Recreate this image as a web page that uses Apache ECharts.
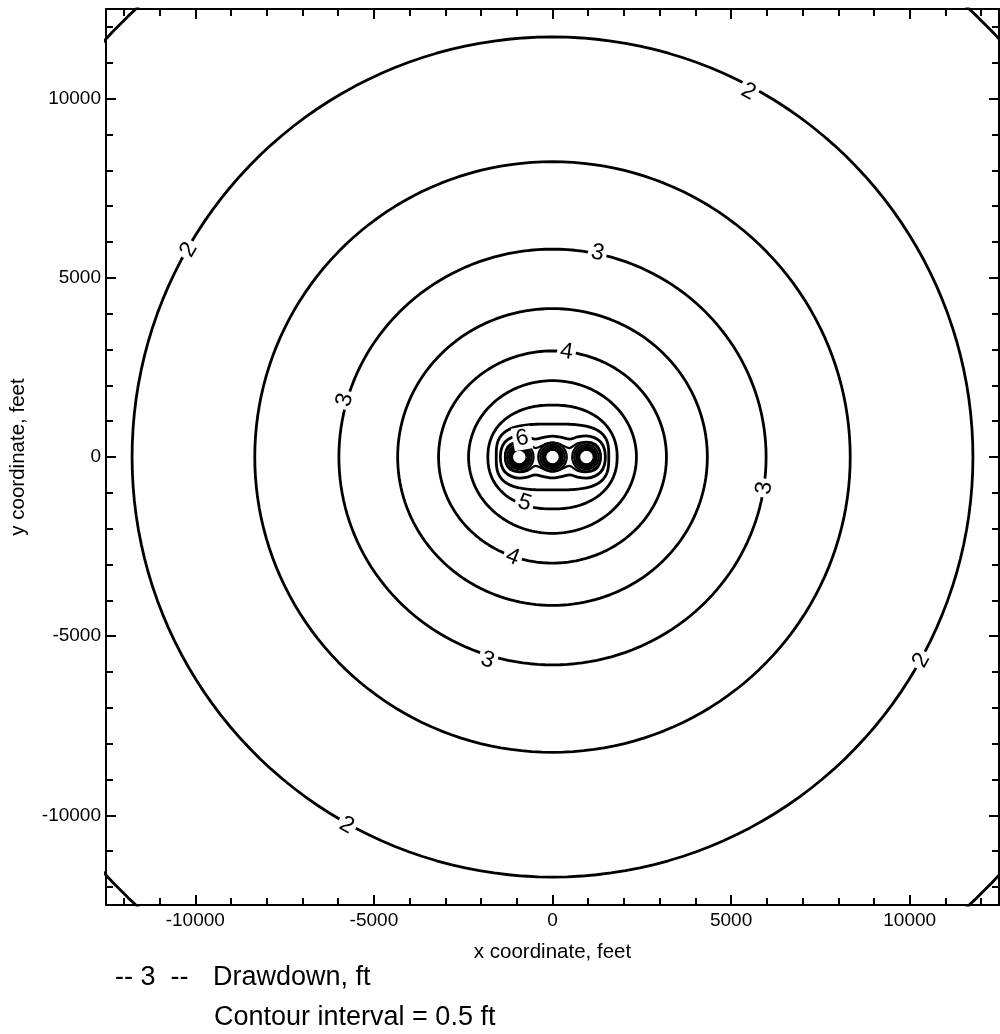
<!DOCTYPE html>
<html>
<head>
<meta charset="utf-8">
<script src="https://cdn.jsdelivr.net/npm/echarts@6/dist/echarts.min.js"></script>
<style>
html,body{margin:0;padding:0;background:#fff;}
#chart{width:1000px;height:1034px;}
</style>
</head>
<body>
<div id="chart"></div>
<script>
// ---- Data (feet) ----
// Outer, nearly elliptical drawdown contours
const contourLevels = [1.5, 2, 2.5, 3, 3.5, 4, 4.5, 5, 5.5];
const contourRadiusX = [17100, 11770, 8335, 5980, 4335, 3190, 2350, 1810, 1575];
const contourRadiusY = [17100, 11720, 8240, 5800, 4140, 2960, 2130, 1450, 920];
const contourSquareness = [2, 2, 2, 2, 2, 2, 2, 2.2, 3.2];

// Pumping wells
const wellX = [-930, 0, 950];
const wellY = [0, 0, 0];

// Tight contours around each well
const ringLevels = [7, 7.5, 8, 8.5, 9];
const ringRadius = [400, 340, 285, 240, 205];

// 6.0 ft contour (upper half, left to right; lower half mirrors it)
const contour6Upper = [
  [-1460, 0], [-1430, 230], [-1330, 420], [-1150, 540], [-930, 590], [-700, 560],
  [-480, 500], [-250, 545], [0, 585], [250, 545], [480, 500], [700, 560],
  [950, 590], [1170, 540], [1350, 420], [1450, 230], [1480, 0]
];
// 6.5 ft contour (upper half)
const contour65Upper = [
  [-1330, 0], [-1300, 200], [-1180, 360], [-930, 420], [-700, 380], [-470, 250],
  [-230, 350], [0, 410], [230, 350], [470, 250], [700, 380], [950, 420],
  [1200, 360], [1320, 200], [1350, 0]
];

// Contour labels
const labelText = ['2', '2', '2', '2', '3', '3', '3', '3', '4', '4', '5', '6'];
const labelX = [5483, -10182, 10322, -5762, 1259, -5818, 5930, -1818, 392, -1119, -783, -850];
const labelY = [10196, 5782, -5670, -10279, 5698, 1592, -866, -5670, 2933, -2793, -1285, 520];
const labelAngle = [-28, 60, 61, -29, -12, 75, 82, -18, -8, -22, -18, 10];

// Axis ticks
const majorTicks = [-10000, -5000, 0, 5000, 10000];
const minorTicks = [-12000, -11000, -10000, -9000, -8000, -7000, -6000, -5000, -4000, -3000, -2000, -1000,
  0, 1000, 2000, 3000, 4000, 5000, 6000, 7000, 8000, 9000, 10000, 11000, 12000];
const axisMin = -12500, axisMax = 12500;

// ---- Build geometry ----
function loop(cx, cy, rx, ry, p) {
  const pts = [];
  for (let k = 0; k <= 360; k += 2) {
    const t = k * Math.PI / 180, c = Math.cos(t), s = Math.sin(t);
    pts.push([cx + rx * Math.sign(c) * Math.pow(Math.abs(c), 2 / p),
              cy + ry * Math.sign(s) * Math.pow(Math.abs(s), 2 / p)]);
  }
  return pts;
}
function mirrorClose(upper) {
  const lower = upper.slice().reverse().map(q => [q[0], -q[1]]);
  return upper.concat(lower.slice(1));
}

const FONT = '"Liberation Sans", Arial, sans-serif';
const lineStyle = { color: '#000', width: 2.8 };
const series = [];
contourLevels.forEach((lv, i) => {
  series.push({
    type: 'line', name: 'c' + lv, data: loop(0, 0, contourRadiusX[i], contourRadiusY[i], contourSquareness[i]),
    showSymbol: false, symbol: 'none', lineStyle, clip: true, silent: true, z: 2, smooth: false
  });
});
[contour6Upper, contour65Upper].forEach((u, i) => {
  series.push({
    type: 'line', name: i ? 'c6.5' : 'c6', data: mirrorClose(u), smooth: 0.35,
    showSymbol: false, symbol: 'none', lineStyle: { color: '#000', width: i ? 2.2 : 2.8 }, silent: true, z: 2
  });
});
wellX.forEach((wx, w) => {
  ringLevels.forEach((lv, j) => {
    series.push({
      type: 'line', name: 'r' + w + '_' + lv, data: loop(wx, wellY[w], ringRadius[j], ringRadius[j], 2),
      showSymbol: false, symbol: 'none', lineStyle: { color: '#000', width: 2.2 }, silent: true, z: 2
    });
  });
});
series.push({
  type: 'custom', name: 'labels', z: 10, silent: true,
  data: labelText.map((t, i) => [labelX[i], labelY[i], labelAngle[i]]),
  renderItem: (params, api) => {
    const pt = api.coord([api.value(0), api.value(1)]);
    const i = params.dataIndex;
    return {
      type: 'text', x: pt[0], y: pt[1], rotation: api.value(2) * Math.PI / 180,
      style: {
        text: labelText[i], fill: '#000', font: '23px ' + FONT,
        align: 'center', verticalAlign: 'middle',
        backgroundColor: '#fff', padding: [0, 3, 0, 3]
      }
    };
  }
});

function axisSet(dim, pos, major, labels, name) {
  const base = {
    type: 'value', min: axisMin, max: axisMax, position: pos,
    splitLine: { show: false },
    axisLine: { show: major, onZero: false, lineStyle: { color: '#000', width: 2 } },
    axisTick: { show: true, inside: true, length: major ? 10 : 7,
      customValues: major ? majorTicks : minorTicks, lineStyle: { color: '#000', width: 2 } },
    axisLabel: { show: labels }
  };
  if (labels) {
    base.axisLabel = {
      show: true, customValues: majorTicks, formatter: v => String(v),
      color: '#000', fontSize: 19, fontFamily: FONT, margin: dim === 'x' ? 6 : 5
    };
    base.name = name;
    base.nameLocation = 'middle';
    base.nameGap = dim === 'x' ? 37 : 77;
    base.nameTextStyle = { color: '#000', fontSize: 20.5, fontFamily: FONT };
  }
  return base;
}

const option = {
  animation: false,
  backgroundColor: '#fff',
  grid: { left: 106, right: 1, top: 9, bottom: 129, containLabel: false },
  xAxis: [
    axisSet('x', 'bottom', true, true, 'x coordinate, feet'),
    axisSet('x', 'bottom', false, false),
    axisSet('x', 'top', true, false),
    axisSet('x', 'top', false, false)
  ],
  yAxis: [
    axisSet('y', 'left', true, true, 'y coordinate, feet'),
    axisSet('y', 'left', false, false),
    axisSet('y', 'right', true, false),
    axisSet('y', 'right', false, false)
  ],
  series,
  graphic: [
    { type: 'text', left: 115, top: 964, style: { text: '-- 3  --', fill: '#000', font: '27px ' + FONT } },
    { type: 'text', left: 213, top: 964, style: { text: 'Drawdown, ft', fill: '#000', font: '27px ' + FONT } },
    { type: 'text', left: 214, top: 1004, style: { text: 'Contour interval = 0.5 ft', fill: '#000', font: '27px ' + FONT } }
  ]
};
const chart = echarts.init(document.getElementById('chart'), null, { renderer: 'canvas' });
chart.setOption(option);
</script>
</body>
</html>
